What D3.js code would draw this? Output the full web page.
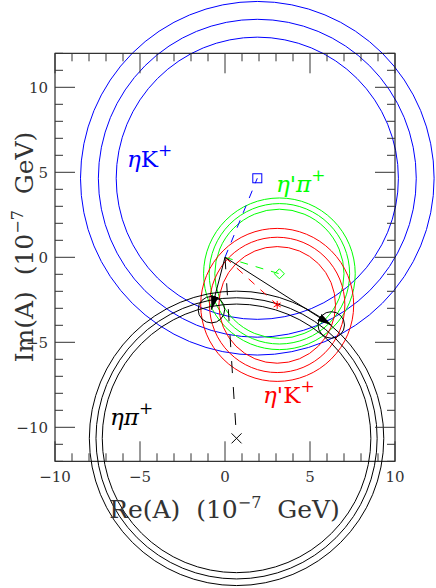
<!DOCTYPE html>
<html>
<head>
<meta charset="UTF-8" />
<script src="https://d3js.org/d3.v7.min.js"></script>
<style>
  body { margin: 0; background: #fff; }
  svg { display: block; }
  text { font-family: "DejaVu Serif", "Liberation Serif", serif; }
</style>
</head>
<body>
<div id="chart"></div>
<script>
// decay modes, one ring set each
var modes = ["ηK+", "η′π+", "η′K+", "ηπ+"];
var modeColors = ["#0000ff", "#00ff00", "#ff0000", "#000000"];
// ring centres (Re, Im) in 10^-7 GeV
var centreRe = [1.9, 3.2, 3.07, 0.68];
var centreIm = [4.65, -0.97, -2.8, -10.65];
// inner, middle, outer radius of each ring set
var radii = [
  [8.3, 9.35, 10.4],
  [3.8, 4.13, 4.46],
  [3.43, 3.98, 4.5],
  [7.9, 8.27, 8.66]
];
// solution points (arrow tips) and their error circle
var solRe = [-0.8, 6.25];
var solIm = [-3.08, -3.98];
var solErr = 0.78;

var xTicks = [-10, -5, 0, 5, 10];
var yTicks = [-10, -5, 0, 5, 10];

var width = 436, height = 588;
var svg = d3.select("#chart").append("svg")
  .attr("width", width)
  .attr("height", height);

var x = d3.scaleLinear().domain([-10, 10]).range([55, 395]);
var y = d3.scaleLinear().domain([-12, 12]).range([461.3, 53.3]);
var k = x(1) - x(0);

// rings (not clipped by the frame)
var rings = svg.append("g").attr("fill", "none").attr("stroke-width", 1);
modes.forEach(function (m, i) {
  rings.selectAll(null)
    .data(radii[i])
    .enter().append("circle")
    .attr("cx", x(centreRe[i]))
    .attr("cy", y(centreIm[i]))
    .attr("r", function (d) { return d * k; })
    .attr("stroke", modeColors[i]);
});

// frame + ticks
svg.append("rect")
  .attr("x", x(-10)).attr("y", y(12))
  .attr("width", x(10) - x(-10)).attr("height", y(-12) - y(12))
  .attr("fill", "none").attr("stroke", "#000").attr("stroke-width", 1);

var tk = svg.append("g").attr("stroke", "#333").attr("stroke-width", 1);
d3.range(-10, 11).forEach(function (v) {
  var len = v % 5 === 0 ? 20 : 8;
  tk.append("line").attr("x1", x(v)).attr("x2", x(v)).attr("y1", y(-12)).attr("y2", y(-12) - len);
  tk.append("line").attr("x1", x(v)).attr("x2", x(v)).attr("y1", y(12)).attr("y2", y(12) + len);
});
d3.range(-12, 13).forEach(function (v) {
  var len = v % 5 === 0 ? 20 : 8;
  tk.append("line").attr("y1", y(v)).attr("y2", y(v)).attr("x1", x(-10)).attr("x2", x(-10) + len);
  tk.append("line").attr("y1", y(v)).attr("y2", y(v)).attr("x1", x(10)).attr("x2", x(10) - len);
});

var fmt = function (d) { return d < 0 ? "\u2212" + Math.abs(d) : String(d); };
svg.selectAll(".xl").data(xTicks).enter().append("text")
  .attr("x", function (d) { return x(d); })
  .attr("y", 482)
  .attr("text-anchor", "middle")
  .attr("font-size", 15)
  .attr("fill", "#333")
  .text(fmt);
svg.selectAll(".yl").data(yTicks).enter().append("text")
  .attr("x", 48)
  .attr("y", function (d) { return y(d) + 5.5; })
  .attr("text-anchor", "end")
  .attr("font-size", 15)
  .attr("fill", "#333")
  .text(fmt);

// axis titles
function title(sel, name) {
  sel.append("tspan").text(name + "  (10");
  sel.append("tspan").attr("dy", -10).attr("font-size", 16).text("\u22127");
  sel.append("tspan").attr("dy", 10).text("  GeV)");
}
var xt = svg.append("text")
  .attr("x", 224.5).attr("y", 518)
  .attr("text-anchor", "middle").attr("font-size", 25).attr("fill", "#333")
  .attr("xml:space", "preserve");
title(xt, "Re(A)");
var yt = svg.append("text")
  .attr("transform", "translate(33,247) rotate(-90)")
  .attr("text-anchor", "middle").attr("font-size", 25).attr("fill", "#333")
  .attr("xml:space", "preserve");
title(yt, "Im(A)");

// dashed lines from origin to each centre
modes.forEach(function (m, i) {
  svg.append("line")
    .attr("x1", x(0)).attr("y1", y(0))
    .attr("x2", x(centreRe[i])).attr("y2", y(centreIm[i]))
    .attr("stroke", modeColors[i])
    .attr("stroke-width", 1)
    .attr("stroke-dasharray", i === 3 ? "12,14" : "8,8");
});

// arrows from origin to the two solutions
svg.append("defs").append("marker")
  .attr("id", "head")
  .attr("viewBox", "0 0 14 8")
  .attr("refX", 14).attr("refY", 4)
  .attr("markerWidth", 14).attr("markerHeight", 8)
  .attr("markerUnits", "userSpaceOnUse")
  .attr("orient", "auto")
  .append("path").attr("d", "M0,0L14,4L0,8Z").attr("fill", "#000");

solRe.forEach(function (r, i) {
  svg.append("line")
    .attr("x1", x(0)).attr("y1", y(0))
    .attr("x2", x(r)).attr("y2", y(solIm[i]))
    .attr("stroke", "#000").attr("stroke-width", 1)
    .attr("marker-end", "url(#head)");
  svg.append("circle")
    .attr("cx", x(r)).attr("cy", y(solIm[i]))
    .attr("r", solErr * k)
    .attr("fill", "none").attr("stroke", "#000").attr("stroke-width", 1);
});

// centre markers
var s = 4.5;
svg.append("rect")
  .attr("x", x(centreRe[0]) - s).attr("y", y(centreIm[0]) - s)
  .attr("width", 2 * s).attr("height", 2 * s)
  .attr("fill", "none").attr("stroke", modeColors[0]);
svg.append("path")
  .attr("transform", "translate(" + x(centreRe[1]) + "," + y(centreIm[1]) + ")")
  .attr("d", "M0,-5L5,0L0,5L-5,0Z")
  .attr("fill", "none").attr("stroke", modeColors[1]);
svg.append("path")
  .attr("transform", "translate(" + x(centreRe[2]) + "," + y(centreIm[2]) + ")")
  .attr("d", "M0,-4V4M-3.5,-2L3.5,2M-3.5,2L3.5,-2")
  .attr("fill", "none").attr("stroke", modeColors[2]);
svg.append("path")
  .attr("transform", "translate(" + x(centreRe[3]) + "," + y(centreIm[3]) + ")")
  .attr("d", "M-5,-5L5,5M-5,5L5,-5")
  .attr("fill", "none").attr("stroke", modeColors[3]);

// mode labels
var labelPos = [[-5.76, 5.33], [3.0, 3.86], [2.24, -8.57], [-6.76, -9.86]];
var greek = ["η", "η'", "η'", "η"];
var part = ["K", "π", "K", "π"];
modes.forEach(function (m, i) {
  var t = svg.append("text")
    .attr("x", x(labelPos[i][0])).attr("y", y(labelPos[i][1]))
    .attr("font-size", 23)
    .attr("fill", modeColors[i]);
  t.append("tspan").attr("font-style", "italic").text(greek[i]);
  t.append("tspan").attr("font-style", part[i] === "π" ? "italic" : "normal").text(part[i]);
  t.append("tspan").attr("dy", -11).attr("font-size", 17).text("+");
});
</script>
</body>
</html>
